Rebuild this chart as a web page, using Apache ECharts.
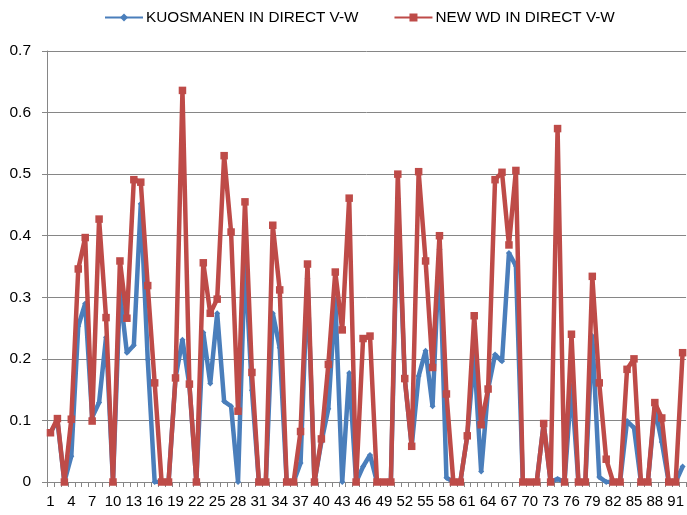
<!DOCTYPE html>
<html>
<head>
<meta charset="utf-8">
<script src="https://cdn.jsdelivr.net/npm/echarts@6/dist/echarts.min.js"></script>
<style>html,body{margin:0;padding:0;background:#fff}#c{width:687px;height:515px}</style>
</head>
<body>
<div id="c"></div>
<script>
var categories = [];
for (var i = 1; i <= 92; i++) categories.push(String(i));

var kuosmanen = [0.08,0.1,0,0.042,0.253,0.29,0.105,0.129,0.235,0,
0.308,0.21,0.222,0.452,0.199,0,0,0,0.169,0.231,
0.157,0,0.243,0.16,0.274,0.131,0.123,0,0.362,0.149,
0,0,0.274,0.218,0,0,0.031,0.33,0,0.065,
0.119,0.297,0,0.177,0,0.025,0.044,0,0,0,
0.46,0.168,0.058,0.172,0.213,0.123,0.378,0.007,0,0,
0.075,0.205,0.017,0.151,0.207,0.196,0.372,0.351,0,0,
0,0.095,0,0.005,0,0.156,0,0,0.237,0.008,
0,0,0,0.099,0.088,0,0,0.12,0.065,0,
0,0.025];

var newWd = [0.08,0.103,0,0.102,0.346,0.397,0.099,0.427,0.267,0,
0.359,0.266,0.491,0.487,0.319,0.161,0,0,0.169,0.636,
0.159,0,0.356,0.274,0.297,0.53,0.406,0.115,0.455,0.178,
0,0,0.417,0.312,0,0,0.082,0.354,0,0.07,
0.191,0.341,0.247,0.461,0,0.233,0.237,0,0,0,
0.5,0.168,0.058,0.504,0.359,0.186,0.4,0.143,0,0,
0.075,0.27,0.093,0.151,0.491,0.503,0.385,0.506,0,0,
0,0.095,0,0.574,0,0.24,0,0,0.334,0.161,
0.037,0,0,0.183,0.2,0,0,0.129,0.104,0,
0,0.21];

var seriesNames = ['KUOSMANEN IN DIRECT V-W', 'NEW WD IN DIRECT V-W'];

var chart = echarts.init(document.getElementById('c'), null, {renderer: 'canvas'});
chart.setOption({
  animation: false,
  backgroundColor: '#ffffff',
  legend: {
    top: 5,
    left: 99,
    itemWidth: 38,
    itemHeight: 10,
    itemGap: 35,
    textStyle: {fontFamily: '"Liberation Sans", sans-serif', fontSize: 15.3, color: '#000', padding: [0, 0, 0, -2]},
    data: seriesNames
  },
  grid: {left: 47, right: -1, top: 51, bottom: 33, containLabel: false},
  xAxis: {
    type: 'category',
    data: categories,
    boundaryGap: true,
    axisLine: {lineStyle: {color: '#868686', width: 1}},
    axisTick: {show: true, interval: 0, length: 5, lineStyle: {color: '#868686'}},
    axisLabel: {interval: 2, margin: 12, fontFamily: '"Liberation Sans", sans-serif', fontSize: 15, color: '#000'},
    splitLine: {show: false}
  },
  yAxis: {
    type: 'value',
    min: 0, max: 0.7, interval: 0.1,
    axisLine: {show: true, lineStyle: {color: '#868686', width: 1}},
    axisTick: {show: true, length: 5, lineStyle: {color: '#868686'}},
    axisLabel: {margin: 16, fontFamily: '"Liberation Sans", sans-serif', fontSize: 15.5, color: '#000',
      formatter: function (v) { return v === 0 ? '0' : String(Math.round(v * 10) / 10); }},
    splitLine: {show: true, lineStyle: {color: '#868686', width: 1}}
  },
  series: [
    {
      name: seriesNames[0], type: 'line', data: kuosmanen,
      symbol: 'diamond', symbolSize: 6, showAllSymbol: true,
      lineStyle: {color: '#4A7EBB', width: 4.5},
      itemStyle: {color: '#4A7EBB'},
      z: 2
    },
    {
      name: seriesNames[1], type: 'line', data: newWd,
      symbol: 'rect', symbolSize: 7.5, showAllSymbol: true,
      lineStyle: {color: '#BE4B48', width: 4.5},
      itemStyle: {color: '#BE4B48'},
      z: 3
    }
  ]
});
</script>
</body>
</html>
